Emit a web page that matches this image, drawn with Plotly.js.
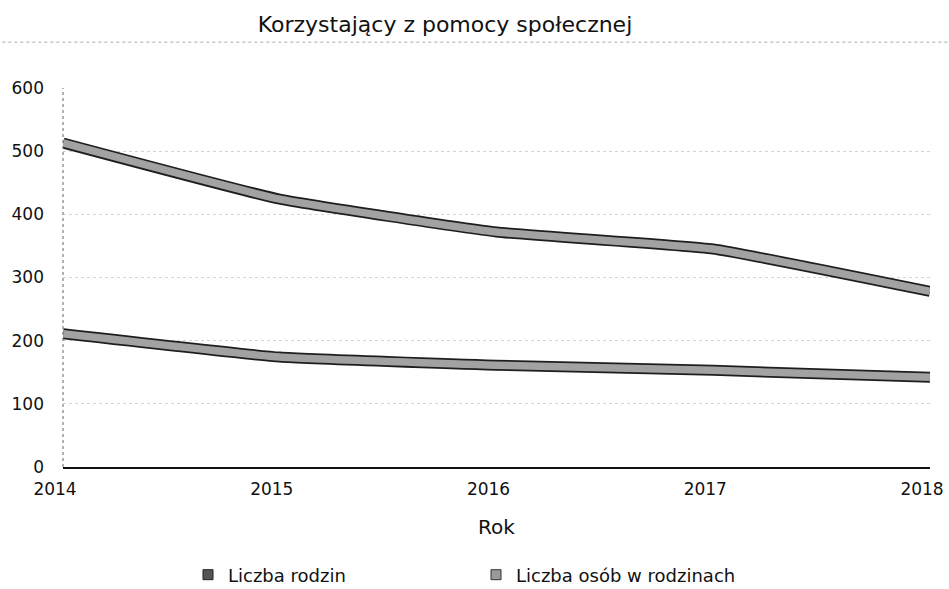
<!DOCTYPE html>
<html>
<head>
<meta charset="utf-8">
<script src="https://cdn.plot.ly/plotly-3.0.1.min.js"></script>
<style>html,body{margin:0;padding:0;background:#fff;}#chart{width:949px;height:589px;}</style>
</head>
<body>
<div id="chart"></div>
<script>
// Data
const years = [2014, 2015, 2016, 2017, 2018];
const liczbaRodzin = [211, 174, 161, 153, 142];
const liczbaOsob = [513, 424, 372, 345, 278];
const yTickVals = [0, 100, 200, 300, 400, 500, 600];
const seriesNames = ['Liczba rodzin', 'Liczba osób w rodzinach'];
const titleText = 'Korzystający z pomocy społecznej';
const xTitle = 'Rok';

const FONT = 'DejaVu Sans, Verdana, sans-serif';
const OUTLINE = '#1e1e1e';
const FILLC = '#a2a2a2';
const lineShape = {shape: 'spline', smoothing: 0.35};

function band(yvals) {
  return [
    {x: years, y: yvals, type: 'scatter', mode: 'lines', showlegend: false, hoverinfo: 'skip',
     line: Object.assign({color: OUTLINE, width: 11}, lineShape)},
    {x: years, y: yvals, type: 'scatter', mode: 'lines', showlegend: false, hoverinfo: 'skip',
     line: Object.assign({color: FILLC, width: 7.5}, lineShape)}
  ];
}

const traces = [].concat(
  band(liczbaRodzin),
  band(liczbaOsob),
  [
    {x: [null], y: [null], type: 'scatter', mode: 'markers', name: seriesNames[0],
     marker: {symbol: 'square', size: 10, color: '#555', line: {color: '#222', width: 1}}},
    {x: [null], y: [null], type: 'scatter', mode: 'markers', name: seriesNames[1],
     marker: {symbol: 'square', size: 10, color: '#9a9a9a', line: {color: '#333', width: 1}}}
  ]
);

const layout = {
  width: 949, height: 589,
  paper_bgcolor: '#fff', plot_bgcolor: '#fff',
  margin: {l: 63, r: 19, t: 88, b: 122},
  font: {family: FONT, color: '#111', size: 17},
  title: {text: titleText, font: {family: FONT, size: 22, color: '#111'},
          x: 445/949, xref: 'container', xanchor: 'center',
          y: 1 - 24/589, yref: 'container', yanchor: 'middle'},
  xaxis: {
    range: [2014, 2018], tickvals: years, ticktext: years.map(String),
    showgrid: false, zeroline: false,
    showline: true, linecolor: '#111', linewidth: 2,
    ticks: '', ticklabelstandoff: 6, ticklabelshift: -8, ticklabeloverflow: 'allow',
    tickfont: {size: 17},
    title: {text: xTitle, font: {size: 20}, standoff: 22}
  },
  yaxis: {
    range: [0, 600], tickvals: yTickVals,
    showgrid: true, gridcolor: '#d4d4d4', griddash: 'dot', gridwidth: 1,
    zeroline: false, showline: false, ticks: '', ticklabelstandoff: 18,
    tickfont: {size: 17}
  },
  legend: {
    orientation: 'h', x: 188/949, xanchor: 'left', xref: 'container',
    y: 14/589, yanchor: 'middle', yref: 'container',
    font: {size: 18}, entrywidth: 243, entrywidthmode: 'pixels',
    itemwidth: 30
  },
  shapes: [
    {type: 'line', xref: 'paper', yref: 'paper', x0: 0, x1: 0, y0: 0, y1: 1,
     line: {color: '#666', width: 1, dash: 'dot'}},
    {type: 'line', xref: 'paper', yref: 'paper', x0: -0.07, x1: 1.02, y0: 1.121, y1: 1.121,
     line: {color: '#aaa', width: 1, dash: 'dot'}}
  ],
  showlegend: true
};

Plotly.newPlot('chart', traces, layout, {displayModeBar: false, staticPlot: true});
</script>
</body>
</html>
